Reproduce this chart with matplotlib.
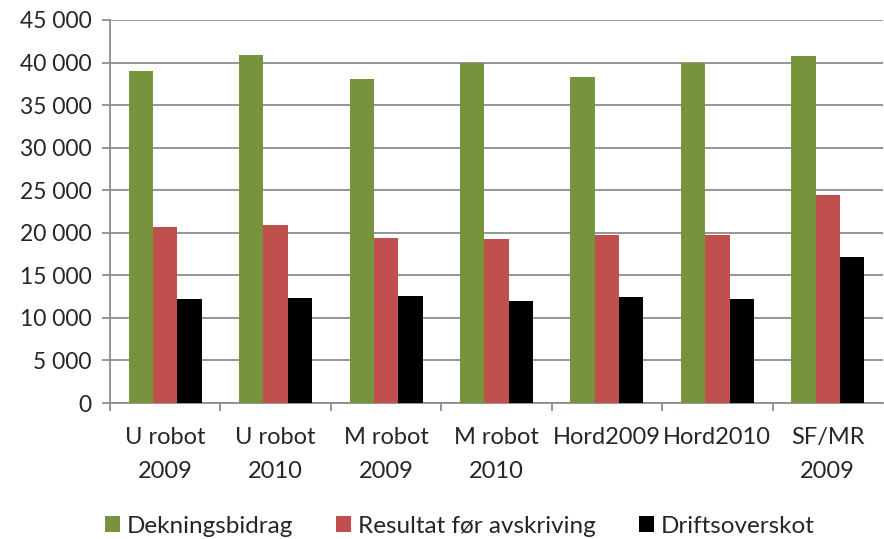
import matplotlib
matplotlib.use("Agg")
import matplotlib.pyplot as plt
import numpy as np
from matplotlib.ticker import FuncFormatter, MultipleLocator
from matplotlib.patches import Patch

categories = ["U robot\n2009", "U robot\n2010", "M robot\n2009", "M robot\n2010",
              "Hord2009", "Hord2010", "SF/MR\n2009"]
series_names = ["Dekningsbidrag", "Resultat før avskriving", "Driftsoverskot"]
dekningsbidrag = [38970, 40830, 38070, 39960, 38350, 40000, 40790]
resultat = [20630, 20900, 19410, 19250, 19690, 19690, 24410]
driftsoverskot = [12170, 12320, 12600, 12000, 12480, 12170, 17130]
colors = ["#77933C", "#C0504D", "#000000"]

plt.rcParams['font.family'] = ['Lato', 'DejaVu Sans']
fig = plt.figure(figsize=(8.84, 5.39), dpi=100)
ax = fig.add_axes([0.1244, 0.2523, 0.8745, 0.7107])

x = np.arange(len(categories))
w = 0.22
for i, (vals, c) in enumerate(zip([dekningsbidrag, resultat, driftsoverskot], colors)):
    ax.bar(x + (i - 1) * w, vals, width=w, color=c, zorder=3, linewidth=0)

ax.set_xlim(-0.5, len(categories) - 0.5)
ax.set_ylim(0, 45000)
ax.yaxis.set_major_locator(MultipleLocator(5000))
ax.yaxis.set_major_formatter(FuncFormatter(lambda v, p: f"{int(v):,}".replace(",", " ")))
ax.grid(axis='y', color='#8c8c8c', linewidth=1.3, zorder=0)
for s in ['top', 'right']:
    ax.spines[s].set_visible(False)
for s in ['left', 'bottom']:
    ax.spines[s].set_color('#8c8c8c')
    ax.spines[s].set_linewidth(1.3)

ax.set_xticks(x)
ax.set_xticklabels(categories, linespacing=1.8)
ax.tick_params(axis='x', length=0, pad=17, labelsize=17, colors='#262626')
ax.set_xticks(np.arange(len(categories)) - 0.5, minor=True)
ax.tick_params(axis='x', which='minor', length=6, color='#8c8c8c', width=1.3, direction='out')
ax.tick_params(axis='y', length=6, color='#8c8c8c', width=1.3, labelsize=16.5, labelcolor='#262626', pad=7)

handles = [Patch(facecolor=c, edgecolor='none', label=n) for c, n in zip(colors, series_names)]
fig.legend(handles=handles, loc='lower center', ncol=3, frameon=False, fontsize=17.5,
           handlelength=0.62, handleheight=0.62, handletextpad=0.3, columnspacing=1.75,
           bbox_to_anchor=(0.52, -0.036), labelcolor='#262626')

fig.savefig("out.png", dpi=100)
